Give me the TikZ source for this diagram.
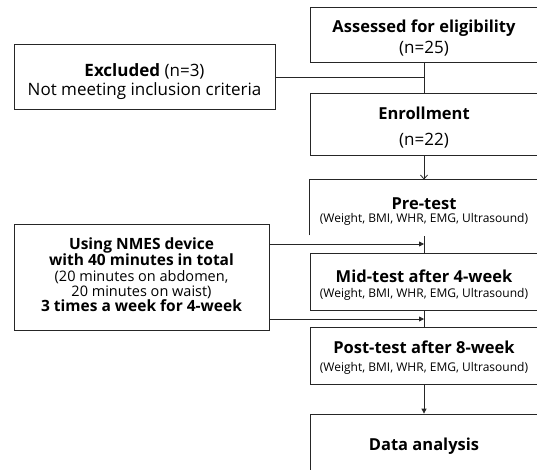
\documentclass[tikz,border=0pt]{standalone}
\usepackage{fontspec}
\setmainfont{Open Sans}
\usetikzlibrary{arrows.meta}
\newcommand{\titletxt}{\fontsize{16.5}{16.5}\selectfont\bfseries}
\newcommand{\regtxt}{\fontsize{17}{17}\selectfont}
\newcommand{\smalltxt}{\fontsize{12}{12}\selectfont}
\tikzset{
  frame/.style={draw=black!85, line width=0.8pt, minimum width=228pt, inner sep=0pt},
  txt/.style={inner sep=0pt, align=center, font=\fontsize{12}{#1}\selectfont},
  link/.style={draw=black!85, line width=0.8pt},
  tip/.style={-{Triangle[length=5pt,width=5pt]}},
}
\begin{document}
\begin{tikzpicture}[x=1pt,y=-1pt]
\useasboundingbox (0,0) rectangle (537,470);
\clip (0,0) rectangle (537,470);
% right column boxes
\node[frame, minimum height=55pt] (assess) at (424,34.5) {};
\node[frame, minimum height=62pt] (enroll) at (424,124) {};
\node[frame, draw=none, minimum height=55pt] (pre) at (424,207.5) {};
\draw[link] (pre.south west) -- (pre.north west) -- (pre.north east) -- (pre.south east);
\node[frame, minimum height=57pt] (mid) at (424,281.5) {};
\node[frame, minimum height=57pt] (post) at (424,355.5) {};
\node[frame, minimum height=58pt] (data) at (424,443) {};
% left column boxes
\node[frame, minimum width=261pt, minimum height=65pt] (excl) at (144.5,76.5) {};
\node[frame, minimum width=255pt, minimum height=106pt] (nmes) at (141.5,277) {};
% texts
\node[txt=21] (assessT) at (424,38) {{\titletxt Assessed for eligibility}\\{\regtxt (n=25)}};
\node[txt=26.5] (enrollT) at (424,127.5) {{\titletxt Enrollment}\\{\regtxt (n=22)}};
\node[txt=13.5] (preT) at (424,211.5) {{\titletxt Pre-test}\\{\smalltxt (Weight, BMI, WHR, EMG, Ultrasound)}};
\node[txt=15.5] (midT) at (424,285) {{\titletxt Mid-test after 4-week}\\{\smalltxt (Weight, BMI, WHR, EMG, Ultrasound)}};
\node[txt=18] (postT) at (424,357.5) {{\titletxt Post-test after 8-week}\\{\smalltxt (Weight, BMI, WHR, EMG, Ultrasound)}};
\node[txt=12] (dataT) at (424,446) {\titletxt Data analysis};
\node[txt=19] (exclT) at (144.5,81.5) {{\regtxt\textbf{Excluded} (n=3)}\\{\regtxt Not meeting inclusion criteria}};
\node[txt=15.1, font=\fontsize{15.5}{15.1}\selectfont] (nmesT) at (141.5,274.5)
  {\textbf{Using NMES device}\\\textbf{with 40 minutes in total}\\{\fontsize{14.5}{15.1}\selectfont(20 minutes on abdomen,}\\{\fontsize{14.5}{15.1}\selectfont 20 minutes on waist)}\\\textbf{3 times a week for 4-week}};
% connectors
\coordinate (j1) at (424,77);
\coordinate (a1) at (424,244);
\coordinate (a2) at (424,319);
\draw[link] (assess.south) -- (enroll.north);
\draw[link] (excl.east |- j1) -- (j1);
\draw[link, -{Straight Barb[length=4pt,width=7pt]}] (enroll.south) -- (pre.north);
\draw[link] ([yshift=-1pt]pre.south) -- (mid.north);
\draw[link, tip] (nmes.east |- a1) -- (a1);
\draw[link] (mid.south) -- (post.north);
\draw[link, tip] (nmes.east |- a2) -- (a2);
\draw[link, tip] (post.south) -- (data.north);
\end{tikzpicture}
\end{document}
